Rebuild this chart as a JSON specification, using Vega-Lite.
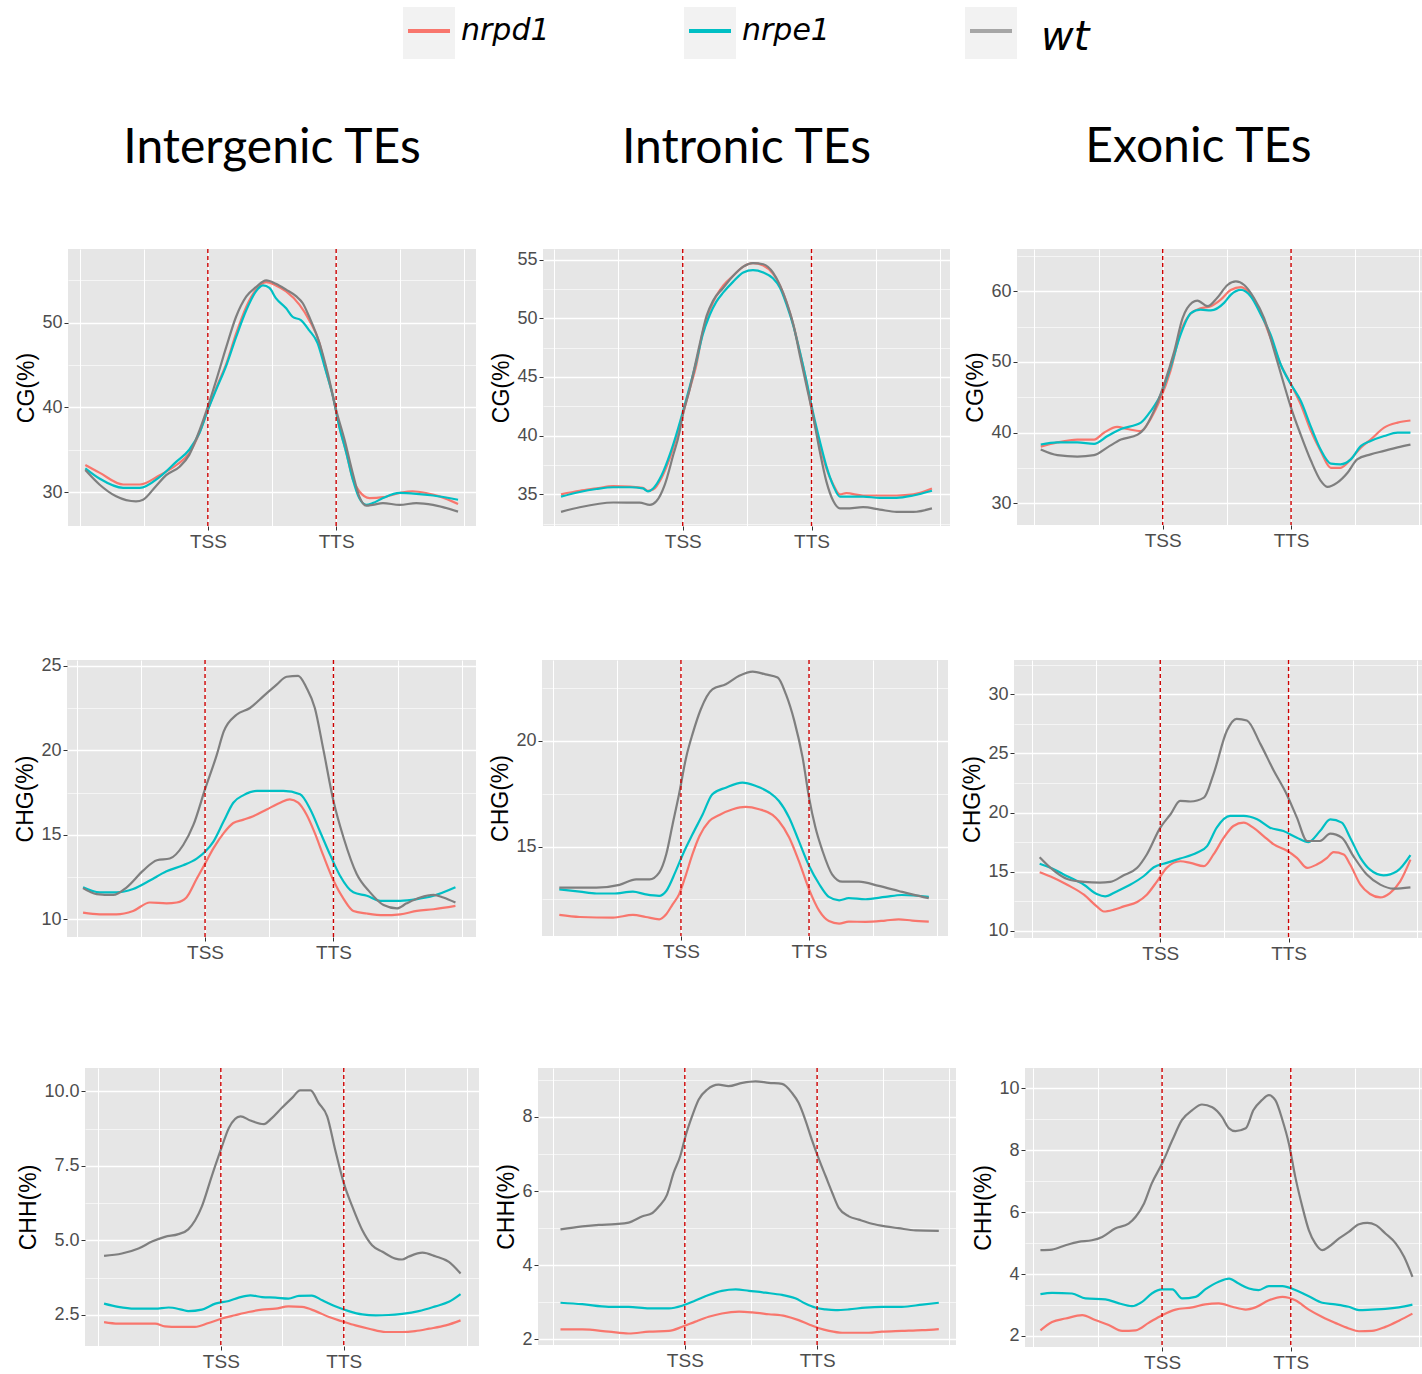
{
  "$schema": "https://vega.github.io/schema/vega-lite/v6.json",
  "background": "white",
  "padding": {"left": 0, "top": 0, "right": 0, "bottom": 0},
  "config": {
    "font": "Liberation Sans",
    "view": {"stroke": null},
    "axis": {
      "domain": false,
      "labelFont": "Liberation Sans",
      "labelColor": "#4D4D4D",
      "tickColor": "#333333",
      "tickWidth": 1,
      "tickSize": 4,
      "labelPadding": 2,
      "gridColor": "#FFFFFF",
      "titleFont": "Liberation Sans",
      "titleFontWeight": "normal",
      "titleColor": "#000000",
      "labelOverlap": false
    },
    "axisX": {"labelFontSize": 19, "labelFlush": false},
    "axisY": {"labelFontSize": 18, "titleFontSize": 23, "titlePadding": 3},
    "line": {"strokeWidth": 2.2, "interpolate": "monotone"},
    "title": {"font": "Lato", "fontSize": 48, "fontWeight": "normal", "color": "#000000", "anchor": "middle", "frame": "group", "baseline": "alphabetic", "offset": 75}
  },
  "resolve": {"scale": {"color": "independent"}},
  "spacing": 58,
  "datasets": {
    "genotypes": [{"genotype": "nrpd1"}, {"genotype": "nrpe1"}, {"genotype": "wt"}],
    "sites": [{"pos": 2, "site": "TSS"}, {"pos": 4, "site": "TTS"}],
    "cg_intergenic": [
      {"genotype": "nrpd1", "pos": 0.09, "pct": 33.2}, {"genotype": "nrpd1", "pos": 0.31, "pct": 32.3}, {"genotype": "nrpd1", "pos": 0.68, "pct": 30.9}, {"genotype": "nrpd1", "pos": 0.94, "pct": 30.9}, {"genotype": "nrpd1", "pos": 1.25, "pct": 32.0}, {"genotype": "nrpd1", "pos": 1.51, "pct": 33.2}, {"genotype": "nrpd1", "pos": 1.71, "pct": 34.6}, {"genotype": "nrpd1", "pos": 1.87, "pct": 37.0}, {"genotype": "nrpd1", "pos": 2.0, "pct": 39.7}, {"genotype": "nrpd1", "pos": 2.13, "pct": 42.3}, {"genotype": "nrpd1", "pos": 2.29, "pct": 45.2}, {"genotype": "nrpd1", "pos": 2.44, "pct": 48.7}, {"genotype": "nrpd1", "pos": 2.6, "pct": 51.9}, {"genotype": "nrpd1", "pos": 2.75, "pct": 53.9}, {"genotype": "nrpd1", "pos": 2.91, "pct": 54.8}, {"genotype": "nrpd1", "pos": 3.06, "pct": 54.4}, {"genotype": "nrpd1", "pos": 3.22, "pct": 53.7}, {"genotype": "nrpd1", "pos": 3.43, "pct": 52.1}, {"genotype": "nrpd1", "pos": 3.58, "pct": 50.3}, {"genotype": "nrpd1", "pos": 3.74, "pct": 47.6}, {"genotype": "nrpd1", "pos": 3.84, "pct": 44.4}, {"genotype": "nrpd1", "pos": 3.95, "pct": 41.3}, {"genotype": "nrpd1", "pos": 4.05, "pct": 37.7}, {"genotype": "nrpd1", "pos": 4.16, "pct": 34.6}, {"genotype": "nrpd1", "pos": 4.26, "pct": 31.5}, {"genotype": "nrpd1", "pos": 4.36, "pct": 30.1}, {"genotype": "nrpd1", "pos": 4.52, "pct": 29.3}, {"genotype": "nrpd1", "pos": 4.73, "pct": 29.4}, {"genotype": "nrpd1", "pos": 4.99, "pct": 29.9}, {"genotype": "nrpd1", "pos": 5.19, "pct": 30.1}, {"genotype": "nrpd1", "pos": 5.4, "pct": 29.9}, {"genotype": "nrpd1", "pos": 5.61, "pct": 29.5}, {"genotype": "nrpd1", "pos": 5.9, "pct": 28.6},
      {"genotype": "nrpe1", "pos": 0.09, "pct": 32.8}, {"genotype": "nrpe1", "pos": 0.31, "pct": 31.6}, {"genotype": "nrpe1", "pos": 0.68, "pct": 30.5}, {"genotype": "nrpe1", "pos": 0.94, "pct": 30.5}, {"genotype": "nrpe1", "pos": 1.25, "pct": 31.8}, {"genotype": "nrpe1", "pos": 1.51, "pct": 33.6}, {"genotype": "nrpe1", "pos": 1.71, "pct": 35.0}, {"genotype": "nrpe1", "pos": 1.87, "pct": 37.0}, {"genotype": "nrpe1", "pos": 2.0, "pct": 39.7}, {"genotype": "nrpe1", "pos": 2.13, "pct": 42.1}, {"genotype": "nrpe1", "pos": 2.29, "pct": 45.0}, {"genotype": "nrpe1", "pos": 2.44, "pct": 48.3}, {"genotype": "nrpe1", "pos": 2.6, "pct": 51.5}, {"genotype": "nrpe1", "pos": 2.75, "pct": 53.7}, {"genotype": "nrpe1", "pos": 2.86, "pct": 54.4}, {"genotype": "nrpe1", "pos": 2.96, "pct": 54.1}, {"genotype": "nrpe1", "pos": 3.06, "pct": 52.9}, {"genotype": "nrpe1", "pos": 3.22, "pct": 51.7}, {"genotype": "nrpe1", "pos": 3.32, "pct": 50.7}, {"genotype": "nrpe1", "pos": 3.45, "pct": 50.3}, {"genotype": "nrpe1", "pos": 3.58, "pct": 49.1}, {"genotype": "nrpe1", "pos": 3.71, "pct": 47.6}, {"genotype": "nrpe1", "pos": 3.82, "pct": 44.8}, {"genotype": "nrpe1", "pos": 3.95, "pct": 41.3}, {"genotype": "nrpe1", "pos": 4.05, "pct": 37.7}, {"genotype": "nrpe1", "pos": 4.16, "pct": 34.6}, {"genotype": "nrpe1", "pos": 4.26, "pct": 31.5}, {"genotype": "nrpe1", "pos": 4.36, "pct": 29.3}, {"genotype": "nrpe1", "pos": 4.47, "pct": 28.5}, {"genotype": "nrpe1", "pos": 4.57, "pct": 28.7}, {"genotype": "nrpe1", "pos": 4.73, "pct": 29.3}, {"genotype": "nrpe1", "pos": 4.99, "pct": 29.9}, {"genotype": "nrpe1", "pos": 5.25, "pct": 29.8}, {"genotype": "nrpe1", "pos": 5.51, "pct": 29.6}, {"genotype": "nrpe1", "pos": 5.9, "pct": 29.1},
      {"genotype": "wt", "pos": 0.09, "pct": 32.6}, {"genotype": "wt", "pos": 0.31, "pct": 30.9}, {"genotype": "wt", "pos": 0.57, "pct": 29.5}, {"genotype": "wt", "pos": 0.88, "pct": 28.9}, {"genotype": "wt", "pos": 0.99, "pct": 29.1}, {"genotype": "wt", "pos": 1.19, "pct": 30.7}, {"genotype": "wt", "pos": 1.35, "pct": 32.0}, {"genotype": "wt", "pos": 1.56, "pct": 33.0}, {"genotype": "wt", "pos": 1.71, "pct": 34.4}, {"genotype": "wt", "pos": 1.87, "pct": 37.3}, {"genotype": "wt", "pos": 2.0, "pct": 40.1}, {"genotype": "wt", "pos": 2.13, "pct": 43.2}, {"genotype": "wt", "pos": 2.29, "pct": 47.2}, {"genotype": "wt", "pos": 2.44, "pct": 50.7}, {"genotype": "wt", "pos": 2.6, "pct": 53.1}, {"genotype": "wt", "pos": 2.75, "pct": 54.2}, {"genotype": "wt", "pos": 2.91, "pct": 55.0}, {"genotype": "wt", "pos": 3.06, "pct": 54.6}, {"genotype": "wt", "pos": 3.22, "pct": 53.9}, {"genotype": "wt", "pos": 3.38, "pct": 53.1}, {"genotype": "wt", "pos": 3.48, "pct": 52.3}, {"genotype": "wt", "pos": 3.58, "pct": 50.7}, {"genotype": "wt", "pos": 3.74, "pct": 47.6}, {"genotype": "wt", "pos": 3.87, "pct": 44.0}, {"genotype": "wt", "pos": 4.0, "pct": 39.7}, {"genotype": "wt", "pos": 4.13, "pct": 36.2}, {"genotype": "wt", "pos": 4.26, "pct": 32.2}, {"genotype": "wt", "pos": 4.36, "pct": 29.5}, {"genotype": "wt", "pos": 4.47, "pct": 28.4}, {"genotype": "wt", "pos": 4.57, "pct": 28.5}, {"genotype": "wt", "pos": 4.73, "pct": 28.7}, {"genotype": "wt", "pos": 4.99, "pct": 28.5}, {"genotype": "wt", "pos": 5.25, "pct": 28.7}, {"genotype": "wt", "pos": 5.51, "pct": 28.5}, {"genotype": "wt", "pos": 5.9, "pct": 27.7}
    ],
    "cg_intronic": [
      {"genotype": "nrpd1", "pos": 0.11, "pct": 35.0}, {"genotype": "nrpd1", "pos": 0.4, "pct": 35.3}, {"genotype": "nrpd1", "pos": 0.66, "pct": 35.5}, {"genotype": "nrpd1", "pos": 0.92, "pct": 35.7}, {"genotype": "nrpd1", "pos": 1.18, "pct": 35.65}, {"genotype": "nrpd1", "pos": 1.38, "pct": 35.55}, {"genotype": "nrpd1", "pos": 1.46, "pct": 35.3}, {"genotype": "nrpd1", "pos": 1.54, "pct": 35.4}, {"genotype": "nrpd1", "pos": 1.67, "pct": 36.4}, {"genotype": "nrpd1", "pos": 1.8, "pct": 38.1}, {"genotype": "nrpd1", "pos": 1.9, "pct": 39.8}, {"genotype": "nrpd1", "pos": 1.99, "pct": 41.6}, {"genotype": "nrpd1", "pos": 2.11, "pct": 44.0}, {"genotype": "nrpd1", "pos": 2.21, "pct": 46.0}, {"genotype": "nrpd1", "pos": 2.31, "pct": 48.8}, {"genotype": "nrpd1", "pos": 2.42, "pct": 50.7}, {"genotype": "nrpd1", "pos": 2.52, "pct": 51.9}, {"genotype": "nrpd1", "pos": 2.63, "pct": 52.8}, {"genotype": "nrpd1", "pos": 2.78, "pct": 53.6}, {"genotype": "nrpd1", "pos": 2.94, "pct": 54.4}, {"genotype": "nrpd1", "pos": 3.09, "pct": 54.7}, {"genotype": "nrpd1", "pos": 3.25, "pct": 54.5}, {"genotype": "nrpd1", "pos": 3.4, "pct": 53.8}, {"genotype": "nrpd1", "pos": 3.51, "pct": 52.8}, {"genotype": "nrpd1", "pos": 3.61, "pct": 51.4}, {"genotype": "nrpd1", "pos": 3.72, "pct": 49.4}, {"genotype": "nrpd1", "pos": 3.82, "pct": 47.1}, {"genotype": "nrpd1", "pos": 3.92, "pct": 44.6}, {"genotype": "nrpd1", "pos": 4.03, "pct": 41.5}, {"genotype": "nrpd1", "pos": 4.13, "pct": 39.2}, {"genotype": "nrpd1", "pos": 4.23, "pct": 37.2}, {"genotype": "nrpd1", "pos": 4.34, "pct": 35.8}, {"genotype": "nrpd1", "pos": 4.44, "pct": 35.0}, {"genotype": "nrpd1", "pos": 4.54, "pct": 35.1}, {"genotype": "nrpd1", "pos": 4.8, "pct": 34.9}, {"genotype": "nrpd1", "pos": 5.06, "pct": 34.9}, {"genotype": "nrpd1", "pos": 5.32, "pct": 34.9}, {"genotype": "nrpd1", "pos": 5.58, "pct": 35.0}, {"genotype": "nrpd1", "pos": 5.87, "pct": 35.5},
      {"genotype": "nrpe1", "pos": 0.11, "pct": 34.8}, {"genotype": "nrpe1", "pos": 0.4, "pct": 35.2}, {"genotype": "nrpe1", "pos": 0.66, "pct": 35.45}, {"genotype": "nrpe1", "pos": 0.92, "pct": 35.6}, {"genotype": "nrpe1", "pos": 1.18, "pct": 35.6}, {"genotype": "nrpe1", "pos": 1.38, "pct": 35.5}, {"genotype": "nrpe1", "pos": 1.46, "pct": 35.25}, {"genotype": "nrpe1", "pos": 1.54, "pct": 35.5}, {"genotype": "nrpe1", "pos": 1.67, "pct": 36.6}, {"genotype": "nrpe1", "pos": 1.8, "pct": 38.4}, {"genotype": "nrpe1", "pos": 1.9, "pct": 40.1}, {"genotype": "nrpe1", "pos": 1.99, "pct": 41.8}, {"genotype": "nrpe1", "pos": 2.11, "pct": 44.2}, {"genotype": "nrpe1", "pos": 2.21, "pct": 46.3}, {"genotype": "nrpe1", "pos": 2.31, "pct": 48.6}, {"genotype": "nrpe1", "pos": 2.42, "pct": 50.3}, {"genotype": "nrpe1", "pos": 2.52, "pct": 51.4}, {"genotype": "nrpe1", "pos": 2.63, "pct": 52.2}, {"genotype": "nrpe1", "pos": 2.78, "pct": 53.1}, {"genotype": "nrpe1", "pos": 2.94, "pct": 53.9}, {"genotype": "nrpe1", "pos": 3.09, "pct": 54.1}, {"genotype": "nrpe1", "pos": 3.25, "pct": 53.9}, {"genotype": "nrpe1", "pos": 3.4, "pct": 53.4}, {"genotype": "nrpe1", "pos": 3.51, "pct": 52.6}, {"genotype": "nrpe1", "pos": 3.61, "pct": 51.2}, {"genotype": "nrpe1", "pos": 3.72, "pct": 49.3}, {"genotype": "nrpe1", "pos": 3.82, "pct": 47.1}, {"genotype": "nrpe1", "pos": 3.92, "pct": 44.7}, {"genotype": "nrpe1", "pos": 4.03, "pct": 41.8}, {"genotype": "nrpe1", "pos": 4.13, "pct": 39.5}, {"genotype": "nrpe1", "pos": 4.23, "pct": 37.4}, {"genotype": "nrpe1", "pos": 4.34, "pct": 35.7}, {"genotype": "nrpe1", "pos": 4.44, "pct": 34.8}, {"genotype": "nrpe1", "pos": 4.54, "pct": 34.8}, {"genotype": "nrpe1", "pos": 4.8, "pct": 34.8}, {"genotype": "nrpe1", "pos": 5.06, "pct": 34.7}, {"genotype": "nrpe1", "pos": 5.32, "pct": 34.7}, {"genotype": "nrpe1", "pos": 5.58, "pct": 34.9}, {"genotype": "nrpe1", "pos": 5.87, "pct": 35.3},
      {"genotype": "wt", "pos": 0.11, "pct": 33.5}, {"genotype": "wt", "pos": 0.4, "pct": 33.9}, {"genotype": "wt", "pos": 0.92, "pct": 34.3}, {"genotype": "wt", "pos": 1.33, "pct": 34.3}, {"genotype": "wt", "pos": 1.49, "pct": 34.1}, {"genotype": "wt", "pos": 1.59, "pct": 34.4}, {"genotype": "wt", "pos": 1.72, "pct": 35.8}, {"genotype": "wt", "pos": 1.85, "pct": 38.3}, {"genotype": "wt", "pos": 1.95, "pct": 40.3}, {"genotype": "wt", "pos": 1.99, "pct": 41.5}, {"genotype": "wt", "pos": 2.11, "pct": 44.0}, {"genotype": "wt", "pos": 2.26, "pct": 47.7}, {"genotype": "wt", "pos": 2.37, "pct": 50.2}, {"genotype": "wt", "pos": 2.47, "pct": 51.5}, {"genotype": "wt", "pos": 2.63, "pct": 52.6}, {"genotype": "wt", "pos": 2.78, "pct": 53.6}, {"genotype": "wt", "pos": 2.94, "pct": 54.4}, {"genotype": "wt", "pos": 3.09, "pct": 54.7}, {"genotype": "wt", "pos": 3.25, "pct": 54.6}, {"genotype": "wt", "pos": 3.4, "pct": 53.9}, {"genotype": "wt", "pos": 3.51, "pct": 52.8}, {"genotype": "wt", "pos": 3.61, "pct": 51.4}, {"genotype": "wt", "pos": 3.72, "pct": 49.4}, {"genotype": "wt", "pos": 3.82, "pct": 46.8}, {"genotype": "wt", "pos": 3.92, "pct": 44.3}, {"genotype": "wt", "pos": 4.03, "pct": 41.5}, {"genotype": "wt", "pos": 4.13, "pct": 38.6}, {"genotype": "wt", "pos": 4.23, "pct": 36.1}, {"genotype": "wt", "pos": 4.34, "pct": 34.4}, {"genotype": "wt", "pos": 4.44, "pct": 33.8}, {"genotype": "wt", "pos": 4.54, "pct": 33.8}, {"genotype": "wt", "pos": 4.8, "pct": 33.9}, {"genotype": "wt", "pos": 5.06, "pct": 33.7}, {"genotype": "wt", "pos": 5.32, "pct": 33.5}, {"genotype": "wt", "pos": 5.58, "pct": 33.5}, {"genotype": "wt", "pos": 5.87, "pct": 33.8}
    ],
    "cg_exonic": [
      {"genotype": "nrpd1", "pos": 0.1, "pct": 38.0}, {"genotype": "nrpd1", "pos": 0.36, "pct": 38.6}, {"genotype": "nrpd1", "pos": 0.67, "pct": 39.0}, {"genotype": "nrpd1", "pos": 0.93, "pct": 39.0}, {"genotype": "nrpd1", "pos": 1.09, "pct": 40.0}, {"genotype": "nrpd1", "pos": 1.29, "pct": 40.8}, {"genotype": "nrpd1", "pos": 1.45, "pct": 40.5}, {"genotype": "nrpd1", "pos": 1.66, "pct": 40.2}, {"genotype": "nrpd1", "pos": 1.81, "pct": 41.9}, {"genotype": "nrpd1", "pos": 1.97, "pct": 44.9}, {"genotype": "nrpd1", "pos": 2.12, "pct": 48.7}, {"genotype": "nrpd1", "pos": 2.28, "pct": 54.3}, {"genotype": "nrpd1", "pos": 2.44, "pct": 56.9}, {"genotype": "nrpd1", "pos": 2.59, "pct": 57.6}, {"genotype": "nrpd1", "pos": 2.75, "pct": 57.9}, {"genotype": "nrpd1", "pos": 2.9, "pct": 58.8}, {"genotype": "nrpd1", "pos": 3.06, "pct": 60.2}, {"genotype": "nrpd1", "pos": 3.22, "pct": 60.6}, {"genotype": "nrpd1", "pos": 3.37, "pct": 59.5}, {"genotype": "nrpd1", "pos": 3.53, "pct": 56.9}, {"genotype": "nrpd1", "pos": 3.68, "pct": 53.4}, {"genotype": "nrpd1", "pos": 3.84, "pct": 49.6}, {"genotype": "nrpd1", "pos": 4.0, "pct": 46.8}, {"genotype": "nrpd1", "pos": 4.15, "pct": 44.0}, {"genotype": "nrpd1", "pos": 4.31, "pct": 40.2}, {"genotype": "nrpd1", "pos": 4.46, "pct": 37.4}, {"genotype": "nrpd1", "pos": 4.62, "pct": 35.0}, {"genotype": "nrpd1", "pos": 4.77, "pct": 35.0}, {"genotype": "nrpd1", "pos": 4.93, "pct": 36.2}, {"genotype": "nrpd1", "pos": 5.09, "pct": 37.9}, {"genotype": "nrpd1", "pos": 5.24, "pct": 39.0}, {"genotype": "nrpd1", "pos": 5.45, "pct": 40.7}, {"genotype": "nrpd1", "pos": 5.66, "pct": 41.4}, {"genotype": "nrpd1", "pos": 5.86, "pct": 41.7},
      {"genotype": "nrpe1", "pos": 0.1, "pct": 38.3}, {"genotype": "nrpe1", "pos": 0.36, "pct": 38.6}, {"genotype": "nrpe1", "pos": 0.67, "pct": 38.6}, {"genotype": "nrpe1", "pos": 0.93, "pct": 38.4}, {"genotype": "nrpe1", "pos": 1.14, "pct": 39.5}, {"genotype": "nrpe1", "pos": 1.35, "pct": 40.5}, {"genotype": "nrpe1", "pos": 1.66, "pct": 41.4}, {"genotype": "nrpe1", "pos": 1.81, "pct": 43.0}, {"genotype": "nrpe1", "pos": 1.97, "pct": 45.4}, {"genotype": "nrpe1", "pos": 2.12, "pct": 49.2}, {"genotype": "nrpe1", "pos": 2.28, "pct": 53.9}, {"genotype": "nrpe1", "pos": 2.44, "pct": 56.9}, {"genotype": "nrpe1", "pos": 2.59, "pct": 57.4}, {"genotype": "nrpe1", "pos": 2.75, "pct": 57.3}, {"genotype": "nrpe1", "pos": 2.96, "pct": 58.4}, {"genotype": "nrpe1", "pos": 3.06, "pct": 59.5}, {"genotype": "nrpe1", "pos": 3.22, "pct": 60.2}, {"genotype": "nrpe1", "pos": 3.37, "pct": 59.3}, {"genotype": "nrpe1", "pos": 3.53, "pct": 56.7}, {"genotype": "nrpe1", "pos": 3.68, "pct": 53.9}, {"genotype": "nrpe1", "pos": 3.84, "pct": 49.6}, {"genotype": "nrpe1", "pos": 4.0, "pct": 46.8}, {"genotype": "nrpe1", "pos": 4.15, "pct": 44.5}, {"genotype": "nrpe1", "pos": 4.31, "pct": 40.8}, {"genotype": "nrpe1", "pos": 4.46, "pct": 37.6}, {"genotype": "nrpe1", "pos": 4.62, "pct": 35.6}, {"genotype": "nrpe1", "pos": 4.77, "pct": 35.5}, {"genotype": "nrpe1", "pos": 4.93, "pct": 36.2}, {"genotype": "nrpe1", "pos": 5.09, "pct": 38.1}, {"genotype": "nrpe1", "pos": 5.24, "pct": 38.8}, {"genotype": "nrpe1", "pos": 5.45, "pct": 39.5}, {"genotype": "nrpe1", "pos": 5.66, "pct": 40.0}, {"genotype": "nrpe1", "pos": 5.86, "pct": 40.0},
      {"genotype": "wt", "pos": 0.1, "pct": 37.6}, {"genotype": "wt", "pos": 0.36, "pct": 36.8}, {"genotype": "wt", "pos": 0.67, "pct": 36.6}, {"genotype": "wt", "pos": 0.93, "pct": 36.8}, {"genotype": "wt", "pos": 1.14, "pct": 37.9}, {"genotype": "wt", "pos": 1.35, "pct": 39.0}, {"genotype": "wt", "pos": 1.61, "pct": 39.7}, {"genotype": "wt", "pos": 1.71, "pct": 40.5}, {"genotype": "wt", "pos": 1.86, "pct": 43.0}, {"genotype": "wt", "pos": 2.02, "pct": 46.8}, {"genotype": "wt", "pos": 2.18, "pct": 51.5}, {"genotype": "wt", "pos": 2.31, "pct": 56.2}, {"genotype": "wt", "pos": 2.38, "pct": 57.6}, {"genotype": "wt", "pos": 2.54, "pct": 58.7}, {"genotype": "wt", "pos": 2.7, "pct": 57.9}, {"genotype": "wt", "pos": 2.85, "pct": 59.1}, {"genotype": "wt", "pos": 3.01, "pct": 60.9}, {"genotype": "wt", "pos": 3.14, "pct": 61.4}, {"genotype": "wt", "pos": 3.27, "pct": 60.9}, {"genotype": "wt", "pos": 3.42, "pct": 59.1}, {"genotype": "wt", "pos": 3.58, "pct": 56.2}, {"genotype": "wt", "pos": 3.74, "pct": 51.5}, {"genotype": "wt", "pos": 3.89, "pct": 46.8}, {"genotype": "wt", "pos": 4.0, "pct": 43.5}, {"genotype": "wt", "pos": 4.15, "pct": 39.7}, {"genotype": "wt", "pos": 4.31, "pct": 36.0}, {"genotype": "wt", "pos": 4.46, "pct": 33.2}, {"genotype": "wt", "pos": 4.57, "pct": 32.3}, {"genotype": "wt", "pos": 4.72, "pct": 32.9}, {"genotype": "wt", "pos": 4.88, "pct": 34.3}, {"genotype": "wt", "pos": 5.03, "pct": 36.2}, {"genotype": "wt", "pos": 5.24, "pct": 36.9}, {"genotype": "wt", "pos": 5.45, "pct": 37.4}, {"genotype": "wt", "pos": 5.66, "pct": 37.9}, {"genotype": "wt", "pos": 5.86, "pct": 38.3}
    ],
    "chg_intergenic": [
      {"genotype": "nrpd1", "pos": 0.1, "pct": 10.4}, {"genotype": "nrpd1", "pos": 0.36, "pct": 10.3}, {"genotype": "nrpd1", "pos": 0.62, "pct": 10.3}, {"genotype": "nrpd1", "pos": 0.88, "pct": 10.5}, {"genotype": "nrpd1", "pos": 1.14, "pct": 11.0}, {"genotype": "nrpd1", "pos": 1.4, "pct": 10.95}, {"genotype": "nrpd1", "pos": 1.56, "pct": 11.0}, {"genotype": "nrpd1", "pos": 1.71, "pct": 11.3}, {"genotype": "nrpd1", "pos": 1.87, "pct": 12.4}, {"genotype": "nrpd1", "pos": 2.0, "pct": 13.3}, {"genotype": "nrpd1", "pos": 2.13, "pct": 14.2}, {"genotype": "nrpd1", "pos": 2.29, "pct": 15.1}, {"genotype": "nrpd1", "pos": 2.44, "pct": 15.7}, {"genotype": "nrpd1", "pos": 2.6, "pct": 15.9}, {"genotype": "nrpd1", "pos": 2.75, "pct": 16.1}, {"genotype": "nrpd1", "pos": 2.96, "pct": 16.5}, {"genotype": "nrpd1", "pos": 3.17, "pct": 16.9}, {"genotype": "nrpd1", "pos": 3.32, "pct": 17.1}, {"genotype": "nrpd1", "pos": 3.45, "pct": 16.9}, {"genotype": "nrpd1", "pos": 3.58, "pct": 16.2}, {"genotype": "nrpd1", "pos": 3.71, "pct": 15.1}, {"genotype": "nrpd1", "pos": 3.84, "pct": 13.8}, {"genotype": "nrpd1", "pos": 4.0, "pct": 12.3}, {"genotype": "nrpd1", "pos": 4.16, "pct": 11.2}, {"genotype": "nrpd1", "pos": 4.31, "pct": 10.5}, {"genotype": "nrpd1", "pos": 4.52, "pct": 10.35}, {"genotype": "nrpd1", "pos": 4.78, "pct": 10.25}, {"genotype": "nrpd1", "pos": 5.04, "pct": 10.3}, {"genotype": "nrpd1", "pos": 5.3, "pct": 10.5}, {"genotype": "nrpd1", "pos": 5.56, "pct": 10.6}, {"genotype": "nrpd1", "pos": 5.9, "pct": 10.8},
      {"genotype": "nrpe1", "pos": 0.1, "pct": 11.9}, {"genotype": "nrpe1", "pos": 0.36, "pct": 11.6}, {"genotype": "nrpe1", "pos": 0.62, "pct": 11.6}, {"genotype": "nrpe1", "pos": 0.88, "pct": 11.8}, {"genotype": "nrpe1", "pos": 1.14, "pct": 12.3}, {"genotype": "nrpe1", "pos": 1.4, "pct": 12.85}, {"genotype": "nrpe1", "pos": 1.66, "pct": 13.2}, {"genotype": "nrpe1", "pos": 1.87, "pct": 13.6}, {"genotype": "nrpe1", "pos": 2.0, "pct": 14.0}, {"genotype": "nrpe1", "pos": 2.13, "pct": 14.6}, {"genotype": "nrpe1", "pos": 2.29, "pct": 15.8}, {"genotype": "nrpe1", "pos": 2.44, "pct": 16.9}, {"genotype": "nrpe1", "pos": 2.6, "pct": 17.35}, {"genotype": "nrpe1", "pos": 2.81, "pct": 17.6}, {"genotype": "nrpe1", "pos": 3.01, "pct": 17.6}, {"genotype": "nrpe1", "pos": 3.22, "pct": 17.6}, {"genotype": "nrpe1", "pos": 3.48, "pct": 17.4}, {"genotype": "nrpe1", "pos": 3.64, "pct": 16.5}, {"genotype": "nrpe1", "pos": 3.79, "pct": 15.2}, {"genotype": "nrpe1", "pos": 3.95, "pct": 13.8}, {"genotype": "nrpe1", "pos": 4.1, "pct": 12.6}, {"genotype": "nrpe1", "pos": 4.31, "pct": 11.6}, {"genotype": "nrpe1", "pos": 4.52, "pct": 11.4}, {"genotype": "nrpe1", "pos": 4.73, "pct": 11.1}, {"genotype": "nrpe1", "pos": 5.04, "pct": 11.1}, {"genotype": "nrpe1", "pos": 5.3, "pct": 11.2}, {"genotype": "nrpe1", "pos": 5.56, "pct": 11.4}, {"genotype": "nrpe1", "pos": 5.9, "pct": 11.9},
      {"genotype": "wt", "pos": 0.1, "pct": 11.85}, {"genotype": "wt", "pos": 0.31, "pct": 11.5}, {"genotype": "wt", "pos": 0.57, "pct": 11.45}, {"genotype": "wt", "pos": 0.78, "pct": 11.9}, {"genotype": "wt", "pos": 1.04, "pct": 12.9}, {"genotype": "wt", "pos": 1.25, "pct": 13.5}, {"genotype": "wt", "pos": 1.45, "pct": 13.6}, {"genotype": "wt", "pos": 1.66, "pct": 14.4}, {"genotype": "wt", "pos": 1.82, "pct": 15.6}, {"genotype": "wt", "pos": 2.0, "pct": 17.7}, {"genotype": "wt", "pos": 2.18, "pct": 19.7}, {"genotype": "wt", "pos": 2.29, "pct": 21.1}, {"genotype": "wt", "pos": 2.49, "pct": 22.1}, {"genotype": "wt", "pos": 2.7, "pct": 22.5}, {"genotype": "wt", "pos": 2.91, "pct": 23.2}, {"genotype": "wt", "pos": 3.12, "pct": 23.9}, {"genotype": "wt", "pos": 3.27, "pct": 24.35}, {"genotype": "wt", "pos": 3.45, "pct": 24.4}, {"genotype": "wt", "pos": 3.58, "pct": 23.7}, {"genotype": "wt", "pos": 3.71, "pct": 22.5}, {"genotype": "wt", "pos": 3.84, "pct": 20.1}, {"genotype": "wt", "pos": 4.0, "pct": 17.0}, {"genotype": "wt", "pos": 4.16, "pct": 14.8}, {"genotype": "wt", "pos": 4.36, "pct": 12.7}, {"genotype": "wt", "pos": 4.57, "pct": 11.6}, {"genotype": "wt", "pos": 4.78, "pct": 10.85}, {"genotype": "wt", "pos": 4.99, "pct": 10.65}, {"genotype": "wt", "pos": 5.14, "pct": 10.95}, {"genotype": "wt", "pos": 5.35, "pct": 11.3}, {"genotype": "wt", "pos": 5.56, "pct": 11.45}, {"genotype": "wt", "pos": 5.71, "pct": 11.3}, {"genotype": "wt", "pos": 5.9, "pct": 11.0}
    ],
    "chg_intronic": [
      {"genotype": "nrpd1", "pos": 0.1, "pct": 11.77}, {"genotype": "nrpd1", "pos": 0.42, "pct": 11.67}, {"genotype": "nrpd1", "pos": 0.94, "pct": 11.64}, {"genotype": "nrpd1", "pos": 1.25, "pct": 11.77}, {"genotype": "nrpd1", "pos": 1.45, "pct": 11.67}, {"genotype": "nrpd1", "pos": 1.66, "pct": 11.56}, {"genotype": "nrpd1", "pos": 1.77, "pct": 11.8}, {"genotype": "nrpd1", "pos": 1.87, "pct": 12.27}, {"genotype": "nrpd1", "pos": 1.97, "pct": 12.74}, {"genotype": "nrpd1", "pos": 2.08, "pct": 13.69}, {"genotype": "nrpd1", "pos": 2.18, "pct": 14.64}, {"genotype": "nrpd1", "pos": 2.29, "pct": 15.5}, {"genotype": "nrpd1", "pos": 2.44, "pct": 16.2}, {"genotype": "nrpd1", "pos": 2.6, "pct": 16.5}, {"genotype": "nrpd1", "pos": 2.81, "pct": 16.77}, {"genotype": "nrpd1", "pos": 3.01, "pct": 16.88}, {"genotype": "nrpd1", "pos": 3.22, "pct": 16.77}, {"genotype": "nrpd1", "pos": 3.43, "pct": 16.5}, {"genotype": "nrpd1", "pos": 3.53, "pct": 16.2}, {"genotype": "nrpd1", "pos": 3.69, "pct": 15.43}, {"genotype": "nrpd1", "pos": 3.84, "pct": 14.32}, {"genotype": "nrpd1", "pos": 4.0, "pct": 12.98}, {"genotype": "nrpd1", "pos": 4.16, "pct": 11.96}, {"genotype": "nrpd1", "pos": 4.31, "pct": 11.48}, {"genotype": "nrpd1", "pos": 4.47, "pct": 11.36}, {"genotype": "nrpd1", "pos": 4.62, "pct": 11.45}, {"genotype": "nrpd1", "pos": 4.88, "pct": 11.44}, {"genotype": "nrpd1", "pos": 5.19, "pct": 11.5}, {"genotype": "nrpd1", "pos": 5.4, "pct": 11.56}, {"genotype": "nrpd1", "pos": 5.61, "pct": 11.5}, {"genotype": "nrpd1", "pos": 5.87, "pct": 11.45},
      {"genotype": "nrpe1", "pos": 0.1, "pct": 12.98}, {"genotype": "nrpe1", "pos": 0.42, "pct": 12.87}, {"genotype": "nrpe1", "pos": 0.68, "pct": 12.78}, {"genotype": "nrpe1", "pos": 0.94, "pct": 12.78}, {"genotype": "nrpe1", "pos": 1.25, "pct": 12.87}, {"genotype": "nrpe1", "pos": 1.45, "pct": 12.74}, {"genotype": "nrpe1", "pos": 1.66, "pct": 12.67}, {"genotype": "nrpe1", "pos": 1.77, "pct": 12.9}, {"genotype": "nrpe1", "pos": 1.92, "pct": 13.85}, {"genotype": "nrpe1", "pos": 2.03, "pct": 14.64}, {"genotype": "nrpe1", "pos": 2.18, "pct": 15.58}, {"genotype": "nrpe1", "pos": 2.34, "pct": 16.53}, {"genotype": "nrpe1", "pos": 2.49, "pct": 17.48}, {"genotype": "nrpe1", "pos": 2.7, "pct": 17.79}, {"genotype": "nrpe1", "pos": 2.96, "pct": 18.03}, {"genotype": "nrpe1", "pos": 3.17, "pct": 17.87}, {"genotype": "nrpe1", "pos": 3.38, "pct": 17.56}, {"genotype": "nrpe1", "pos": 3.53, "pct": 17.16}, {"genotype": "nrpe1", "pos": 3.69, "pct": 16.37}, {"genotype": "nrpe1", "pos": 3.84, "pct": 15.27}, {"genotype": "nrpe1", "pos": 4.0, "pct": 14.09}, {"genotype": "nrpe1", "pos": 4.16, "pct": 13.22}, {"genotype": "nrpe1", "pos": 4.31, "pct": 12.62}, {"genotype": "nrpe1", "pos": 4.47, "pct": 12.46}, {"genotype": "nrpe1", "pos": 4.62, "pct": 12.56}, {"genotype": "nrpe1", "pos": 4.88, "pct": 12.51}, {"genotype": "nrpe1", "pos": 5.19, "pct": 12.62}, {"genotype": "nrpe1", "pos": 5.45, "pct": 12.71}, {"genotype": "nrpe1", "pos": 5.87, "pct": 12.62},
      {"genotype": "wt", "pos": 0.1, "pct": 13.06}, {"genotype": "wt", "pos": 0.42, "pct": 13.06}, {"genotype": "wt", "pos": 0.68, "pct": 13.06}, {"genotype": "wt", "pos": 1.04, "pct": 13.19}, {"genotype": "wt", "pos": 1.3, "pct": 13.45}, {"genotype": "wt", "pos": 1.51, "pct": 13.45}, {"genotype": "wt", "pos": 1.66, "pct": 13.77}, {"genotype": "wt", "pos": 1.77, "pct": 14.64}, {"genotype": "wt", "pos": 1.87, "pct": 16.06}, {"genotype": "wt", "pos": 1.97, "pct": 17.48}, {"genotype": "wt", "pos": 2.08, "pct": 19.21}, {"genotype": "wt", "pos": 2.18, "pct": 20.32}, {"genotype": "wt", "pos": 2.31, "pct": 21.5}, {"genotype": "wt", "pos": 2.49, "pct": 22.44}, {"genotype": "wt", "pos": 2.7, "pct": 22.68}, {"genotype": "wt", "pos": 2.91, "pct": 23.08}, {"genotype": "wt", "pos": 3.12, "pct": 23.28}, {"genotype": "wt", "pos": 3.32, "pct": 23.15}, {"genotype": "wt", "pos": 3.51, "pct": 23.0}, {"genotype": "wt", "pos": 3.64, "pct": 22.2}, {"genotype": "wt", "pos": 3.77, "pct": 20.95}, {"genotype": "wt", "pos": 3.9, "pct": 19.21}, {"genotype": "wt", "pos": 4.0, "pct": 17.32}, {"genotype": "wt", "pos": 4.1, "pct": 15.9}, {"genotype": "wt", "pos": 4.21, "pct": 14.8}, {"genotype": "wt", "pos": 4.36, "pct": 13.69}, {"genotype": "wt", "pos": 4.52, "pct": 13.34}, {"genotype": "wt", "pos": 4.78, "pct": 13.34}, {"genotype": "wt", "pos": 5.09, "pct": 13.14}, {"genotype": "wt", "pos": 5.4, "pct": 12.9}, {"genotype": "wt", "pos": 5.61, "pct": 12.74}, {"genotype": "wt", "pos": 5.87, "pct": 12.56}
    ],
    "chg_exonic": [
      {"genotype": "nrpd1", "pos": 0.12, "pct": 14.96}, {"genotype": "nrpd1", "pos": 0.29, "pct": 14.6}, {"genotype": "nrpd1", "pos": 0.55, "pct": 13.9}, {"genotype": "nrpd1", "pos": 0.81, "pct": 13.06}, {"genotype": "nrpd1", "pos": 1.01, "pct": 12.07}, {"genotype": "nrpd1", "pos": 1.12, "pct": 11.64}, {"genotype": "nrpd1", "pos": 1.27, "pct": 11.78}, {"genotype": "nrpd1", "pos": 1.43, "pct": 12.07}, {"genotype": "nrpd1", "pos": 1.64, "pct": 12.44}, {"genotype": "nrpd1", "pos": 1.79, "pct": 13.06}, {"genotype": "nrpd1", "pos": 1.95, "pct": 14.19}, {"genotype": "nrpd1", "pos": 2.1, "pct": 15.33}, {"genotype": "nrpd1", "pos": 2.31, "pct": 15.89}, {"genotype": "nrpd1", "pos": 2.47, "pct": 15.75}, {"genotype": "nrpd1", "pos": 2.68, "pct": 15.47}, {"genotype": "nrpd1", "pos": 2.83, "pct": 16.46}, {"genotype": "nrpd1", "pos": 2.99, "pct": 17.88}, {"genotype": "nrpd1", "pos": 3.14, "pct": 18.87}, {"genotype": "nrpd1", "pos": 3.3, "pct": 19.15}, {"genotype": "nrpd1", "pos": 3.45, "pct": 18.73}, {"genotype": "nrpd1", "pos": 3.61, "pct": 18.02}, {"genotype": "nrpd1", "pos": 3.77, "pct": 17.31}, {"genotype": "nrpd1", "pos": 3.97, "pct": 16.8}, {"genotype": "nrpd1", "pos": 4.13, "pct": 16.18}, {"genotype": "nrpd1", "pos": 4.29, "pct": 15.33}, {"genotype": "nrpd1", "pos": 4.44, "pct": 15.61}, {"genotype": "nrpd1", "pos": 4.6, "pct": 16.18}, {"genotype": "nrpd1", "pos": 4.7, "pct": 16.66}, {"genotype": "nrpd1", "pos": 4.86, "pct": 16.46}, {"genotype": "nrpd1", "pos": 4.96, "pct": 15.61}, {"genotype": "nrpd1", "pos": 5.12, "pct": 13.91}, {"genotype": "nrpd1", "pos": 5.27, "pct": 13.12}, {"genotype": "nrpd1", "pos": 5.43, "pct": 12.83}, {"genotype": "nrpd1", "pos": 5.58, "pct": 13.2}, {"genotype": "nrpd1", "pos": 5.74, "pct": 14.19}, {"genotype": "nrpd1", "pos": 5.9, "pct": 16.03},
      {"genotype": "nrpe1", "pos": 0.12, "pct": 15.67}, {"genotype": "nrpe1", "pos": 0.29, "pct": 15.33}, {"genotype": "nrpe1", "pos": 0.55, "pct": 14.62}, {"genotype": "nrpe1", "pos": 0.81, "pct": 13.9}, {"genotype": "nrpe1", "pos": 1.01, "pct": 13.12}, {"genotype": "nrpe1", "pos": 1.14, "pct": 12.92}, {"genotype": "nrpe1", "pos": 1.32, "pct": 13.34}, {"genotype": "nrpe1", "pos": 1.53, "pct": 13.9}, {"genotype": "nrpe1", "pos": 1.74, "pct": 14.62}, {"genotype": "nrpe1", "pos": 1.9, "pct": 15.38}, {"genotype": "nrpe1", "pos": 2.1, "pct": 15.75}, {"genotype": "nrpe1", "pos": 2.31, "pct": 16.12}, {"genotype": "nrpe1", "pos": 2.57, "pct": 16.6}, {"genotype": "nrpe1", "pos": 2.73, "pct": 17.17}, {"genotype": "nrpe1", "pos": 2.88, "pct": 18.73}, {"genotype": "nrpe1", "pos": 3.09, "pct": 19.72}, {"genotype": "nrpe1", "pos": 3.3, "pct": 19.72}, {"genotype": "nrpe1", "pos": 3.51, "pct": 19.43}, {"genotype": "nrpe1", "pos": 3.71, "pct": 18.73}, {"genotype": "nrpe1", "pos": 3.92, "pct": 18.44}, {"genotype": "nrpe1", "pos": 4.13, "pct": 17.88}, {"genotype": "nrpe1", "pos": 4.31, "pct": 17.51}, {"genotype": "nrpe1", "pos": 4.49, "pct": 18.44}, {"genotype": "nrpe1", "pos": 4.65, "pct": 19.43}, {"genotype": "nrpe1", "pos": 4.83, "pct": 19.15}, {"genotype": "nrpe1", "pos": 4.96, "pct": 17.88}, {"genotype": "nrpe1", "pos": 5.12, "pct": 16.18}, {"genotype": "nrpe1", "pos": 5.27, "pct": 15.18}, {"genotype": "nrpe1", "pos": 5.48, "pct": 14.7}, {"genotype": "nrpe1", "pos": 5.69, "pct": 15.04}, {"genotype": "nrpe1", "pos": 5.9, "pct": 16.4},
      {"genotype": "wt", "pos": 0.12, "pct": 16.23}, {"genotype": "wt", "pos": 0.29, "pct": 15.33}, {"genotype": "wt", "pos": 0.55, "pct": 14.39}, {"genotype": "wt", "pos": 0.81, "pct": 14.14}, {"genotype": "wt", "pos": 1.06, "pct": 14.08}, {"genotype": "wt", "pos": 1.22, "pct": 14.14}, {"genotype": "wt", "pos": 1.43, "pct": 14.7}, {"genotype": "wt", "pos": 1.64, "pct": 15.33}, {"genotype": "wt", "pos": 1.79, "pct": 16.46}, {"genotype": "wt", "pos": 2.0, "pct": 18.73}, {"genotype": "wt", "pos": 2.16, "pct": 19.86}, {"genotype": "wt", "pos": 2.31, "pct": 20.99}, {"genotype": "wt", "pos": 2.47, "pct": 20.94}, {"genotype": "wt", "pos": 2.68, "pct": 21.27}, {"genotype": "wt", "pos": 2.83, "pct": 23.26}, {"genotype": "wt", "pos": 3.04, "pct": 26.94}, {"genotype": "wt", "pos": 3.19, "pct": 27.93}, {"genotype": "wt", "pos": 3.35, "pct": 27.79}, {"genotype": "wt", "pos": 3.56, "pct": 25.81}, {"genotype": "wt", "pos": 3.77, "pct": 23.54}, {"genotype": "wt", "pos": 3.97, "pct": 21.56}, {"genotype": "wt", "pos": 4.13, "pct": 19.58}, {"genotype": "wt", "pos": 4.29, "pct": 17.6}, {"genotype": "wt", "pos": 4.49, "pct": 17.6}, {"genotype": "wt", "pos": 4.65, "pct": 18.22}, {"genotype": "wt", "pos": 4.83, "pct": 17.88}, {"genotype": "wt", "pos": 5.01, "pct": 16.32}, {"genotype": "wt", "pos": 5.22, "pct": 14.76}, {"genotype": "wt", "pos": 5.43, "pct": 13.91}, {"genotype": "wt", "pos": 5.64, "pct": 13.57}, {"genotype": "wt", "pos": 5.9, "pct": 13.68}
    ],
    "chh_intergenic": [
      {"genotype": "nrpd1", "pos": 0.1, "pct": 2.26}, {"genotype": "nrpd1", "pos": 0.33, "pct": 2.21}, {"genotype": "nrpd1", "pos": 0.6, "pct": 2.21}, {"genotype": "nrpd1", "pos": 0.93, "pct": 2.21}, {"genotype": "nrpd1", "pos": 1.09, "pct": 2.12}, {"genotype": "nrpd1", "pos": 1.31, "pct": 2.1}, {"genotype": "nrpd1", "pos": 1.58, "pct": 2.1}, {"genotype": "nrpd1", "pos": 1.8, "pct": 2.23}, {"genotype": "nrpd1", "pos": 2.02, "pct": 2.38}, {"genotype": "nrpd1", "pos": 2.23, "pct": 2.49}, {"genotype": "nrpd1", "pos": 2.45, "pct": 2.6}, {"genotype": "nrpd1", "pos": 2.67, "pct": 2.68}, {"genotype": "nrpd1", "pos": 2.89, "pct": 2.71}, {"genotype": "nrpd1", "pos": 3.1, "pct": 2.79}, {"genotype": "nrpd1", "pos": 3.32, "pct": 2.77}, {"genotype": "nrpd1", "pos": 3.54, "pct": 2.63}, {"genotype": "nrpd1", "pos": 3.76, "pct": 2.43}, {"genotype": "nrpd1", "pos": 3.97, "pct": 2.29}, {"genotype": "nrpd1", "pos": 4.19, "pct": 2.15}, {"genotype": "nrpd1", "pos": 4.41, "pct": 2.04}, {"genotype": "nrpd1", "pos": 4.68, "pct": 1.93}, {"genotype": "nrpd1", "pos": 4.95, "pct": 1.93}, {"genotype": "nrpd1", "pos": 5.16, "pct": 1.96}, {"genotype": "nrpd1", "pos": 5.39, "pct": 2.04}, {"genotype": "nrpd1", "pos": 5.66, "pct": 2.15}, {"genotype": "nrpd1", "pos": 5.9, "pct": 2.32},
      {"genotype": "nrpe1", "pos": 0.1, "pct": 2.88}, {"genotype": "nrpe1", "pos": 0.33, "pct": 2.77}, {"genotype": "nrpe1", "pos": 0.6, "pct": 2.71}, {"genotype": "nrpe1", "pos": 0.93, "pct": 2.71}, {"genotype": "nrpe1", "pos": 1.15, "pct": 2.75}, {"genotype": "nrpe1", "pos": 1.36, "pct": 2.68}, {"genotype": "nrpe1", "pos": 1.47, "pct": 2.63}, {"genotype": "nrpe1", "pos": 1.69, "pct": 2.68}, {"genotype": "nrpe1", "pos": 1.91, "pct": 2.88}, {"genotype": "nrpe1", "pos": 2.13, "pct": 2.97}, {"genotype": "nrpe1", "pos": 2.29, "pct": 3.08}, {"genotype": "nrpe1", "pos": 2.48, "pct": 3.16}, {"genotype": "nrpe1", "pos": 2.67, "pct": 3.1}, {"genotype": "nrpe1", "pos": 2.89, "pct": 3.08}, {"genotype": "nrpe1", "pos": 3.1, "pct": 3.05}, {"genotype": "nrpe1", "pos": 3.27, "pct": 3.14}, {"genotype": "nrpe1", "pos": 3.48, "pct": 3.15}, {"genotype": "nrpe1", "pos": 3.65, "pct": 2.99}, {"genotype": "nrpe1", "pos": 3.86, "pct": 2.79}, {"genotype": "nrpe1", "pos": 4.08, "pct": 2.63}, {"genotype": "nrpe1", "pos": 4.3, "pct": 2.52}, {"genotype": "nrpe1", "pos": 4.52, "pct": 2.49}, {"genotype": "nrpe1", "pos": 4.73, "pct": 2.5}, {"genotype": "nrpe1", "pos": 4.95, "pct": 2.54}, {"genotype": "nrpe1", "pos": 5.22, "pct": 2.63}, {"genotype": "nrpe1", "pos": 5.49, "pct": 2.79}, {"genotype": "nrpe1", "pos": 5.71, "pct": 2.94}, {"genotype": "nrpe1", "pos": 5.9, "pct": 3.2},
      {"genotype": "wt", "pos": 0.1, "pct": 4.48}, {"genotype": "wt", "pos": 0.39, "pct": 4.56}, {"genotype": "wt", "pos": 0.66, "pct": 4.73}, {"genotype": "wt", "pos": 0.88, "pct": 4.96}, {"genotype": "wt", "pos": 1.09, "pct": 5.12}, {"genotype": "wt", "pos": 1.31, "pct": 5.21}, {"genotype": "wt", "pos": 1.47, "pct": 5.37}, {"genotype": "wt", "pos": 1.69, "pct": 6.13}, {"genotype": "wt", "pos": 1.85, "pct": 7.14}, {"genotype": "wt", "pos": 2.0, "pct": 8.04}, {"genotype": "wt", "pos": 2.13, "pct": 8.77}, {"genotype": "wt", "pos": 2.32, "pct": 9.16}, {"genotype": "wt", "pos": 2.48, "pct": 9.02}, {"genotype": "wt", "pos": 2.7, "pct": 8.9}, {"genotype": "wt", "pos": 2.83, "pct": 9.1}, {"genotype": "wt", "pos": 2.99, "pct": 9.44}, {"genotype": "wt", "pos": 3.16, "pct": 9.78}, {"genotype": "wt", "pos": 3.29, "pct": 10.03}, {"genotype": "wt", "pos": 3.46, "pct": 10.03}, {"genotype": "wt", "pos": 3.59, "pct": 9.61}, {"genotype": "wt", "pos": 3.73, "pct": 9.16}, {"genotype": "wt", "pos": 3.86, "pct": 8.04}, {"genotype": "wt", "pos": 4.0, "pct": 6.92}, {"genotype": "wt", "pos": 4.14, "pct": 6.13}, {"genotype": "wt", "pos": 4.3, "pct": 5.35}, {"genotype": "wt", "pos": 4.46, "pct": 4.84}, {"genotype": "wt", "pos": 4.63, "pct": 4.62}, {"genotype": "wt", "pos": 4.84, "pct": 4.39}, {"genotype": "wt", "pos": 4.95, "pct": 4.36}, {"genotype": "wt", "pos": 5.05, "pct": 4.45}, {"genotype": "wt", "pos": 5.28, "pct": 4.59}, {"genotype": "wt", "pos": 5.49, "pct": 4.47}, {"genotype": "wt", "pos": 5.71, "pct": 4.28}, {"genotype": "wt", "pos": 5.9, "pct": 3.89}
    ],
    "chh_intronic": [
      {"genotype": "nrpd1", "pos": 0.12, "pct": 2.27}, {"genotype": "nrpd1", "pos": 0.45, "pct": 2.27}, {"genotype": "nrpd1", "pos": 0.85, "pct": 2.21}, {"genotype": "nrpd1", "pos": 1.15, "pct": 2.16}, {"genotype": "nrpd1", "pos": 1.46, "pct": 2.21}, {"genotype": "nrpd1", "pos": 1.76, "pct": 2.23}, {"genotype": "nrpd1", "pos": 1.96, "pct": 2.34}, {"genotype": "nrpd1", "pos": 2.16, "pct": 2.48}, {"genotype": "nrpd1", "pos": 2.36, "pct": 2.61}, {"genotype": "nrpd1", "pos": 2.56, "pct": 2.7}, {"genotype": "nrpd1", "pos": 2.82, "pct": 2.75}, {"genotype": "nrpd1", "pos": 3.02, "pct": 2.73}, {"genotype": "nrpd1", "pos": 3.27, "pct": 2.68}, {"genotype": "nrpd1", "pos": 3.52, "pct": 2.63}, {"genotype": "nrpd1", "pos": 3.72, "pct": 2.52}, {"genotype": "nrpd1", "pos": 3.87, "pct": 2.41}, {"genotype": "nrpd1", "pos": 4.03, "pct": 2.3}, {"genotype": "nrpd1", "pos": 4.18, "pct": 2.23}, {"genotype": "nrpd1", "pos": 4.38, "pct": 2.18}, {"genotype": "nrpd1", "pos": 4.58, "pct": 2.18}, {"genotype": "nrpd1", "pos": 4.78, "pct": 2.18}, {"genotype": "nrpd1", "pos": 4.98, "pct": 2.21}, {"genotype": "nrpd1", "pos": 5.28, "pct": 2.23}, {"genotype": "nrpd1", "pos": 5.59, "pct": 2.25}, {"genotype": "nrpd1", "pos": 5.84, "pct": 2.28},
      {"genotype": "nrpe1", "pos": 0.12, "pct": 2.99}, {"genotype": "nrpe1", "pos": 0.45, "pct": 2.95}, {"genotype": "nrpe1", "pos": 0.85, "pct": 2.88}, {"genotype": "nrpe1", "pos": 1.15, "pct": 2.88}, {"genotype": "nrpe1", "pos": 1.46, "pct": 2.84}, {"genotype": "nrpe1", "pos": 1.76, "pct": 2.84}, {"genotype": "nrpe1", "pos": 1.96, "pct": 2.91}, {"genotype": "nrpe1", "pos": 2.16, "pct": 3.05}, {"genotype": "nrpe1", "pos": 2.36, "pct": 3.2}, {"genotype": "nrpe1", "pos": 2.56, "pct": 3.31}, {"genotype": "nrpe1", "pos": 2.77, "pct": 3.35}, {"genotype": "nrpe1", "pos": 2.97, "pct": 3.31}, {"genotype": "nrpe1", "pos": 3.22, "pct": 3.26}, {"genotype": "nrpe1", "pos": 3.47, "pct": 3.2}, {"genotype": "nrpe1", "pos": 3.67, "pct": 3.11}, {"genotype": "nrpe1", "pos": 3.82, "pct": 2.97}, {"genotype": "nrpe1", "pos": 3.97, "pct": 2.86}, {"genotype": "nrpe1", "pos": 4.13, "pct": 2.81}, {"genotype": "nrpe1", "pos": 4.28, "pct": 2.79}, {"genotype": "nrpe1", "pos": 4.48, "pct": 2.81}, {"genotype": "nrpe1", "pos": 4.73, "pct": 2.86}, {"genotype": "nrpe1", "pos": 4.98, "pct": 2.88}, {"genotype": "nrpe1", "pos": 5.28, "pct": 2.88}, {"genotype": "nrpe1", "pos": 5.59, "pct": 2.94}, {"genotype": "nrpe1", "pos": 5.84, "pct": 2.99},
      {"genotype": "wt", "pos": 0.12, "pct": 4.97}, {"genotype": "wt", "pos": 0.45, "pct": 5.05}, {"genotype": "wt", "pos": 0.7, "pct": 5.09}, {"genotype": "wt", "pos": 0.95, "pct": 5.11}, {"genotype": "wt", "pos": 1.15, "pct": 5.15}, {"genotype": "wt", "pos": 1.36, "pct": 5.32}, {"genotype": "wt", "pos": 1.51, "pct": 5.41}, {"genotype": "wt", "pos": 1.61, "pct": 5.59}, {"genotype": "wt", "pos": 1.73, "pct": 5.9}, {"genotype": "wt", "pos": 1.83, "pct": 6.49}, {"genotype": "wt", "pos": 1.93, "pct": 6.94}, {"genotype": "wt", "pos": 2.01, "pct": 7.48}, {"genotype": "wt", "pos": 2.11, "pct": 8.02}, {"genotype": "wt", "pos": 2.21, "pct": 8.47}, {"genotype": "wt", "pos": 2.34, "pct": 8.74}, {"genotype": "wt", "pos": 2.51, "pct": 8.87}, {"genotype": "wt", "pos": 2.66, "pct": 8.83}, {"genotype": "wt", "pos": 2.87, "pct": 8.92}, {"genotype": "wt", "pos": 3.07, "pct": 8.96}, {"genotype": "wt", "pos": 3.27, "pct": 8.92}, {"genotype": "wt", "pos": 3.47, "pct": 8.89}, {"genotype": "wt", "pos": 3.62, "pct": 8.65}, {"genotype": "wt", "pos": 3.72, "pct": 8.38}, {"genotype": "wt", "pos": 3.82, "pct": 7.93}, {"genotype": "wt", "pos": 3.92, "pct": 7.39}, {"genotype": "wt", "pos": 4.03, "pct": 6.85}, {"genotype": "wt", "pos": 4.13, "pct": 6.4}, {"genotype": "wt", "pos": 4.23, "pct": 5.95}, {"genotype": "wt", "pos": 4.33, "pct": 5.54}, {"genotype": "wt", "pos": 4.48, "pct": 5.32}, {"genotype": "wt", "pos": 4.63, "pct": 5.23}, {"genotype": "wt", "pos": 4.83, "pct": 5.12}, {"genotype": "wt", "pos": 5.03, "pct": 5.05}, {"genotype": "wt", "pos": 5.23, "pct": 5.0}, {"genotype": "wt", "pos": 5.49, "pct": 4.94}, {"genotype": "wt", "pos": 5.84, "pct": 4.93}
    ],
    "chh_exonic": [
      {"genotype": "nrpd1", "pos": 0.11, "pct": 2.18}, {"genotype": "nrpd1", "pos": 0.29, "pct": 2.45}, {"genotype": "nrpd1", "pos": 0.5, "pct": 2.56}, {"genotype": "nrpd1", "pos": 0.76, "pct": 2.67}, {"genotype": "nrpd1", "pos": 0.96, "pct": 2.51}, {"genotype": "nrpd1", "pos": 1.17, "pct": 2.35}, {"genotype": "nrpd1", "pos": 1.38, "pct": 2.16}, {"genotype": "nrpd1", "pos": 1.59, "pct": 2.18}, {"genotype": "nrpd1", "pos": 1.79, "pct": 2.42}, {"genotype": "nrpd1", "pos": 2.0, "pct": 2.67}, {"genotype": "nrpd1", "pos": 2.21, "pct": 2.85}, {"genotype": "nrpd1", "pos": 2.47, "pct": 2.92}, {"genotype": "nrpd1", "pos": 2.67, "pct": 3.02}, {"genotype": "nrpd1", "pos": 2.88, "pct": 3.05}, {"genotype": "nrpd1", "pos": 3.09, "pct": 2.94}, {"genotype": "nrpd1", "pos": 3.3, "pct": 2.85}, {"genotype": "nrpd1", "pos": 3.45, "pct": 2.92}, {"genotype": "nrpd1", "pos": 3.66, "pct": 3.15}, {"genotype": "nrpd1", "pos": 3.87, "pct": 3.26}, {"genotype": "nrpd1", "pos": 4.07, "pct": 3.15}, {"genotype": "nrpd1", "pos": 4.28, "pct": 2.85}, {"genotype": "nrpd1", "pos": 4.49, "pct": 2.61}, {"genotype": "nrpd1", "pos": 4.69, "pct": 2.42}, {"genotype": "nrpd1", "pos": 4.9, "pct": 2.24}, {"genotype": "nrpd1", "pos": 5.06, "pct": 2.15}, {"genotype": "nrpd1", "pos": 5.26, "pct": 2.16}, {"genotype": "nrpd1", "pos": 5.47, "pct": 2.29}, {"genotype": "nrpd1", "pos": 5.68, "pct": 2.49}, {"genotype": "nrpd1", "pos": 5.89, "pct": 2.72},
      {"genotype": "nrpe1", "pos": 0.11, "pct": 3.35}, {"genotype": "nrpe1", "pos": 0.29, "pct": 3.39}, {"genotype": "nrpe1", "pos": 0.6, "pct": 3.37}, {"genotype": "nrpe1", "pos": 0.81, "pct": 3.21}, {"genotype": "nrpe1", "pos": 1.12, "pct": 3.18}, {"genotype": "nrpe1", "pos": 1.33, "pct": 3.05}, {"genotype": "nrpe1", "pos": 1.53, "pct": 2.96}, {"genotype": "nrpe1", "pos": 1.69, "pct": 3.1}, {"genotype": "nrpe1", "pos": 1.84, "pct": 3.37}, {"genotype": "nrpe1", "pos": 2.0, "pct": 3.5}, {"genotype": "nrpe1", "pos": 2.16, "pct": 3.5}, {"genotype": "nrpe1", "pos": 2.31, "pct": 3.21}, {"genotype": "nrpe1", "pos": 2.52, "pct": 3.26}, {"genotype": "nrpe1", "pos": 2.67, "pct": 3.5}, {"genotype": "nrpe1", "pos": 2.88, "pct": 3.75}, {"genotype": "nrpe1", "pos": 3.04, "pct": 3.85}, {"genotype": "nrpe1", "pos": 3.19, "pct": 3.69}, {"genotype": "nrpe1", "pos": 3.35, "pct": 3.53}, {"genotype": "nrpe1", "pos": 3.5, "pct": 3.48}, {"genotype": "nrpe1", "pos": 3.66, "pct": 3.61}, {"genotype": "nrpe1", "pos": 3.87, "pct": 3.61}, {"genotype": "nrpe1", "pos": 4.07, "pct": 3.48}, {"genotype": "nrpe1", "pos": 4.28, "pct": 3.28}, {"genotype": "nrpe1", "pos": 4.49, "pct": 3.07}, {"genotype": "nrpe1", "pos": 4.69, "pct": 3.02}, {"genotype": "nrpe1", "pos": 4.9, "pct": 2.94}, {"genotype": "nrpe1", "pos": 5.06, "pct": 2.83}, {"genotype": "nrpe1", "pos": 5.26, "pct": 2.85}, {"genotype": "nrpe1", "pos": 5.47, "pct": 2.87}, {"genotype": "nrpe1", "pos": 5.68, "pct": 2.92}, {"genotype": "nrpe1", "pos": 5.89, "pct": 3.01},
      {"genotype": "wt", "pos": 0.11, "pct": 4.77}, {"genotype": "wt", "pos": 0.29, "pct": 4.79}, {"genotype": "wt", "pos": 0.5, "pct": 4.93}, {"genotype": "wt", "pos": 0.7, "pct": 5.04}, {"genotype": "wt", "pos": 0.91, "pct": 5.09}, {"genotype": "wt", "pos": 1.07, "pct": 5.2}, {"genotype": "wt", "pos": 1.27, "pct": 5.47}, {"genotype": "wt", "pos": 1.48, "pct": 5.63}, {"genotype": "wt", "pos": 1.59, "pct": 5.85}, {"genotype": "wt", "pos": 1.72, "pct": 6.28}, {"genotype": "wt", "pos": 1.84, "pct": 6.93}, {"genotype": "wt", "pos": 2.0, "pct": 7.57}, {"genotype": "wt", "pos": 2.16, "pct": 8.33}, {"genotype": "wt", "pos": 2.31, "pct": 8.98}, {"genotype": "wt", "pos": 2.47, "pct": 9.3}, {"genotype": "wt", "pos": 2.62, "pct": 9.48}, {"genotype": "wt", "pos": 2.78, "pct": 9.39}, {"genotype": "wt", "pos": 2.93, "pct": 9.08}, {"genotype": "wt", "pos": 3.04, "pct": 8.71}, {"genotype": "wt", "pos": 3.14, "pct": 8.62}, {"genotype": "wt", "pos": 3.3, "pct": 8.71}, {"genotype": "wt", "pos": 3.42, "pct": 9.3}, {"genotype": "wt", "pos": 3.55, "pct": 9.62}, {"genotype": "wt", "pos": 3.66, "pct": 9.78}, {"genotype": "wt", "pos": 3.76, "pct": 9.62}, {"genotype": "wt", "pos": 3.87, "pct": 8.98}, {"genotype": "wt", "pos": 3.97, "pct": 8.22}, {"genotype": "wt", "pos": 4.07, "pct": 7.14}, {"genotype": "wt", "pos": 4.18, "pct": 6.17}, {"genotype": "wt", "pos": 4.28, "pct": 5.42}, {"genotype": "wt", "pos": 4.38, "pct": 4.99}, {"genotype": "wt", "pos": 4.49, "pct": 4.77}, {"genotype": "wt", "pos": 4.59, "pct": 4.88}, {"genotype": "wt", "pos": 4.75, "pct": 5.15}, {"genotype": "wt", "pos": 4.9, "pct": 5.36}, {"genotype": "wt", "pos": 5.06, "pct": 5.61}, {"genotype": "wt", "pos": 5.19, "pct": 5.65}, {"genotype": "wt", "pos": 5.32, "pct": 5.58}, {"genotype": "wt", "pos": 5.47, "pct": 5.31}, {"genotype": "wt", "pos": 5.63, "pct": 4.99}, {"genotype": "wt", "pos": 5.76, "pct": 4.56}, {"genotype": "wt", "pos": 5.89, "pct": 3.91}
    ]
  },
  "vconcat": [
    {
      "width": 1422,
      "height": 66,
      "view": {"stroke": null, "fill": null},
      "data": {"name": "genotypes"},
      "encoding": {
        "x": {"field": "genotype", "type": "nominal", "axis": null, "scale": {"type": "point", "domain": ["nrpd1", "nrpe1", "wt"], "range": [429, 991], "padding": 0}}
      },
      "layer": [
        {"mark": {"type": "square", "size": 2704, "color": "#F2F2F2", "filled": true, "opacity": 1}},
        {"mark": {"type": "tick", "orient": "horizontal", "size": 42, "thickness": 4, "opacity": 1, "yOffset": -2},
         "encoding": {"color": {"field": "genotype", "type": "nominal", "legend": null, "scale": {"domain": ["nrpd1", "nrpe1", "wt"], "range": ["#F8766D", "#00BFC4", "#A6A6A6"]}}}},
        {"transform": [{"filter": "datum.genotype !== 'wt'"}],
         "mark": {"type": "text", "align": "left", "baseline": "middle", "dx": 32, "dy": -2, "font": "DejaVu Sans", "fontStyle": "italic", "fontSize": 30, "color": "#000000"},
         "encoding": {"text": {"field": "genotype"}}},
        {"transform": [{"filter": "datum.genotype === 'wt'"}],
         "mark": {"type": "text", "align": "left", "baseline": "middle", "dx": 50, "dy": 5, "font": "DejaVu Sans", "fontStyle": "italic", "fontSize": 40, "color": "#000000"},
         "encoding": {"text": {"field": "genotype"}}}
      ]
    },
    {
      "columns": 1,
      "align": "none",
      "spacing": 104,
      "concat": [
        {
          "spacing": 14,
          "hconcat": [
            {"width": 1, "height": 1, "data": {"values": []}, "mark": "point"},
            {
              "width": 408, "height": 277,
              "view": {"fill": "#E6E6E6", "stroke": null},
              "title": {"text": "Intergenic TEs"},
              "layer": [
                {"data": {"name": "cg_intergenic"}, "mark": "line",
                 "encoding": {
                   "x": {"field": "pos", "type": "quantitative", "title": null, "scale": {"domain": [-0.18, 6.18], "nice": false, "zero": false}, "axis": {"values": [0, 1, 2, 3, 4, 5, 6], "labelExpr": "datum.value === 2 ? 'TSS' : datum.value === 4 ? 'TTS' : ''", "gridWidth": 1, "tickOpacity": {"condition": {"test": "datum.value === 2 || datum.value === 4", "value": 1}, "value": 0}}},
                   "y": {"field": "pct", "type": "quantitative", "title": "CG(%)", "scale": {"domain": [26.0, 58.7], "nice": false, "zero": false}, "axis": {"values": [30, 35, 40, 45, 50, 55], "labelExpr": "indexof([30, 40, 50], datum.value) >= 0 ? datum.label : ''", "gridWidth": {"condition": {"test": "indexof([30, 40, 50], datum.value) >= 0", "value": 1.3}, "value": 0.6}, "tickOpacity": {"condition": {"test": "indexof([30, 40, 50], datum.value) >= 0", "value": 1}, "value": 0}}},
                   "color": {"field": "genotype", "type": "nominal", "legend": null, "scale": {"domain": ["nrpd1", "nrpe1", "wt"], "range": ["#F8766D", "#00BFC4", "#7F7F7F"]}}
                 }},
                {"data": {"name": "sites"}, "mark": {"type": "rule", "color": "#CD0000", "strokeDash": [4, 3], "strokeWidth": 1.4},
                 "encoding": {"x": {"field": "pos", "type": "quantitative", "title": null}}}
              ]
            },
            {
              "width": 407, "height": 277,
              "view": {"fill": "#E6E6E6", "stroke": null},
              "title": {"text": "Intronic TEs"},
              "layer": [
                {"data": {"name": "cg_intronic"}, "mark": "line",
                 "encoding": {
                   "x": {"field": "pos", "type": "quantitative", "title": null, "scale": {"domain": [-0.17, 6.15], "nice": false, "zero": false}, "axis": {"values": [0, 1, 2, 3, 4, 5, 6], "labelExpr": "datum.value === 2 ? 'TSS' : datum.value === 4 ? 'TTS' : ''", "gridWidth": 1, "tickOpacity": {"condition": {"test": "datum.value === 2 || datum.value === 4", "value": 1}, "value": 0}}},
                   "y": {"field": "pct", "type": "quantitative", "title": "CG(%)", "scale": {"domain": [32.3, 55.9], "nice": false, "zero": false}, "axis": {"values": [32.5, 35, 37.5, 40, 42.5, 45, 47.5, 50, 52.5, 55], "labelExpr": "indexof([35, 40, 45, 50, 55], datum.value) >= 0 ? datum.label : ''", "gridWidth": {"condition": {"test": "indexof([35, 40, 45, 50, 55], datum.value) >= 0", "value": 1.3}, "value": 0.6}, "tickOpacity": {"condition": {"test": "indexof([35, 40, 45, 50, 55], datum.value) >= 0", "value": 1}, "value": 0}}},
                   "color": {"field": "genotype", "type": "nominal", "legend": null, "scale": {"domain": ["nrpd1", "nrpe1", "wt"], "range": ["#F8766D", "#00BFC4", "#7F7F7F"]}}
                 }},
                {"data": {"name": "sites"}, "mark": {"type": "rule", "color": "#CD0000", "strokeDash": [4, 3], "strokeWidth": 1.4},
                 "encoding": {"x": {"field": "pos", "type": "quantitative", "title": null}}}
              ]
            },
            {
              "width": 405, "height": 276,
              "view": {"fill": "#E6E6E6", "stroke": null},
              "title": {"text": "Exonic TEs", "dx": -21},
              "layer": [
                {"data": {"name": "cg_exonic"}, "mark": "line",
                 "encoding": {
                   "x": {"field": "pos", "type": "quantitative", "title": null, "scale": {"domain": [-0.27, 6.04], "nice": false, "zero": false}, "axis": {"values": [0, 1, 2, 3, 4, 5, 6], "labelExpr": "datum.value === 2 ? 'TSS' : datum.value === 4 ? 'TTS' : ''", "gridWidth": 1, "tickOpacity": {"condition": {"test": "datum.value === 2 || datum.value === 4", "value": 1}, "value": 0}}},
                   "y": {"field": "pct", "type": "quantitative", "title": "CG(%)", "scale": {"domain": [26.9, 66.0], "nice": false, "zero": false}, "axis": {"values": [30, 35, 40, 45, 50, 55, 60, 65], "labelExpr": "indexof([30, 40, 50, 60], datum.value) >= 0 ? datum.label : ''", "gridWidth": {"condition": {"test": "indexof([30, 40, 50, 60], datum.value) >= 0", "value": 1.3}, "value": 0.6}, "tickOpacity": {"condition": {"test": "indexof([30, 40, 50, 60], datum.value) >= 0", "value": 1}, "value": 0}}},
                   "color": {"field": "genotype", "type": "nominal", "legend": null, "scale": {"domain": ["nrpd1", "nrpe1", "wt"], "range": ["#F8766D", "#00BFC4", "#7F7F7F"]}}
                 }},
                {"data": {"name": "sites"}, "mark": {"type": "rule", "color": "#CD0000", "strokeDash": [4, 3], "strokeWidth": 1.4},
                 "encoding": {"x": {"field": "pos", "type": "quantitative", "title": null}}}
              ]
            }
          ]
        },
        {
          "spacing": 13,
          "hconcat": [
            {"width": 1, "height": 1, "data": {"values": []}, "mark": "point"},
            {
              "width": 409, "height": 277,
              "view": {"fill": "#E6E6E6", "stroke": null},
              "layer": [
                {"data": {"name": "chg_intergenic"}, "mark": "line",
                 "encoding": {
                   "x": {"field": "pos", "type": "quantitative", "title": null, "scale": {"domain": [-0.15, 6.22], "nice": false, "zero": false}, "axis": {"values": [0, 1, 2, 3, 4, 5, 6], "labelExpr": "datum.value === 2 ? 'TSS' : datum.value === 4 ? 'TTS' : ''", "gridWidth": 1, "tickOpacity": {"condition": {"test": "datum.value === 2 || datum.value === 4", "value": 1}, "value": 0}}},
                   "y": {"field": "pct", "type": "quantitative", "title": "CHG(%)", "scale": {"domain": [8.96, 25.34], "nice": false, "zero": false}, "axis": {"values": [10, 12.5, 15, 17.5, 20, 22.5, 25], "labelExpr": "indexof([10, 15, 20, 25], datum.value) >= 0 ? datum.label : ''", "gridWidth": {"condition": {"test": "indexof([10, 15, 20, 25], datum.value) >= 0", "value": 1.3}, "value": 0.6}, "tickOpacity": {"condition": {"test": "indexof([10, 15, 20, 25], datum.value) >= 0", "value": 1}, "value": 0}}},
                   "color": {"field": "genotype", "type": "nominal", "legend": null, "scale": {"domain": ["nrpd1", "nrpe1", "wt"], "range": ["#F8766D", "#00BFC4", "#7F7F7F"]}}
                 }},
                {"data": {"name": "sites"}, "mark": {"type": "rule", "color": "#CD0000", "strokeDash": [4, 3], "strokeWidth": 1.4},
                 "encoding": {"x": {"field": "pos", "type": "quantitative", "title": null}}}
              ]
            },
            {
              "width": 406, "height": 276,
              "view": {"fill": "#E6E6E6", "stroke": null},
              "layer": [
                {"data": {"name": "chg_intronic"}, "mark": "line",
                 "encoding": {
                   "x": {"field": "pos", "type": "quantitative", "title": null, "scale": {"domain": [-0.17, 6.17], "nice": false, "zero": false}, "axis": {"values": [0, 1, 2, 3, 4, 5, 6], "labelExpr": "datum.value === 2 ? 'TSS' : datum.value === 4 ? 'TTS' : ''", "gridWidth": 1, "tickOpacity": {"condition": {"test": "datum.value === 2 || datum.value === 4", "value": 1}, "value": 0}}},
                   "y": {"field": "pct", "type": "quantitative", "title": "CHG(%)", "scale": {"domain": [10.77, 23.83], "nice": false, "zero": false}, "axis": {"values": [12.5, 15, 17.5, 20, 22.5], "labelExpr": "indexof([15, 20], datum.value) >= 0 ? datum.label : ''", "gridWidth": {"condition": {"test": "indexof([15, 20], datum.value) >= 0", "value": 1.3}, "value": 0.6}, "tickOpacity": {"condition": {"test": "indexof([15, 20], datum.value) >= 0", "value": 1}, "value": 0}}},
                   "color": {"field": "genotype", "type": "nominal", "legend": null, "scale": {"domain": ["nrpd1", "nrpe1", "wt"], "range": ["#F8766D", "#00BFC4", "#7F7F7F"]}}
                 }},
                {"data": {"name": "sites"}, "mark": {"type": "rule", "color": "#CD0000", "strokeDash": [4, 3], "strokeWidth": 1.4},
                 "encoding": {"x": {"field": "pos", "type": "quantitative", "title": null}}}
              ]
            },
            {
              "width": 408, "height": 278,
              "view": {"fill": "#E6E6E6", "stroke": null},
              "layer": [
                {"data": {"name": "chg_exonic"}, "mark": "line",
                 "encoding": {
                   "x": {"field": "pos", "type": "quantitative", "title": null, "scale": {"domain": [-0.28, 6.08], "nice": false, "zero": false}, "axis": {"values": [0, 1, 2, 3, 4, 5, 6], "labelExpr": "datum.value === 2 ? 'TSS' : datum.value === 4 ? 'TTS' : ''", "gridWidth": 1, "tickOpacity": {"condition": {"test": "datum.value === 2 || datum.value === 4", "value": 1}, "value": 0}}},
                   "y": {"field": "pct", "type": "quantitative", "title": "CHG(%)", "scale": {"domain": [9.4, 32.9], "nice": false, "zero": false}, "axis": {"values": [10, 12.5, 15, 17.5, 20, 22.5, 25, 27.5, 30, 32.5], "labelExpr": "indexof([10, 15, 20, 25, 30], datum.value) >= 0 ? datum.label : ''", "gridWidth": {"condition": {"test": "indexof([10, 15, 20, 25, 30], datum.value) >= 0", "value": 1.3}, "value": 0.6}, "tickOpacity": {"condition": {"test": "indexof([10, 15, 20, 25, 30], datum.value) >= 0", "value": 1}, "value": 0}}},
                   "color": {"field": "genotype", "type": "nominal", "legend": null, "scale": {"domain": ["nrpd1", "nrpe1", "wt"], "range": ["#F8766D", "#00BFC4", "#7F7F7F"]}}
                 }},
                {"data": {"name": "sites"}, "mark": {"type": "rule", "color": "#CD0000", "strokeDash": [4, 3], "strokeWidth": 1.4},
                 "encoding": {"x": {"field": "pos", "type": "quantitative", "title": null}}}
              ]
            }
          ]
        },
        {
          "spacing": 16,
          "hconcat": [
            {"width": 1, "height": 1, "data": {"values": []}, "mark": "point"},
            {
              "width": 394, "height": 278,
              "view": {"fill": "#E6E6E6", "stroke": null},
              "layer": [
                {"data": {"name": "chh_intergenic"}, "mark": "line",
                 "encoding": {
                   "x": {"field": "pos", "type": "quantitative", "title": null, "scale": {"domain": [-0.21, 6.2], "nice": false, "zero": false}, "axis": {"values": [0, 1, 2, 3, 4, 5, 6], "labelExpr": "datum.value === 2 ? 'TSS' : datum.value === 4 ? 'TTS' : ''", "gridWidth": 1, "tickOpacity": {"condition": {"test": "datum.value === 2 || datum.value === 4", "value": 1}, "value": 0}}},
                   "y": {"field": "pct", "type": "quantitative", "title": "CHH(%)", "scale": {"domain": [1.46, 10.78], "nice": false, "zero": false}, "axis": {"values": [2.5, 3.75, 5, 6.25, 7.5, 8.75, 10], "format": ".1f", "labelExpr": "indexof([2.5, 5, 7.5, 10], datum.value) >= 0 ? datum.label : ''", "gridWidth": {"condition": {"test": "indexof([2.5, 5, 7.5, 10], datum.value) >= 0", "value": 1.3}, "value": 0.6}, "tickOpacity": {"condition": {"test": "indexof([2.5, 5, 7.5, 10], datum.value) >= 0", "value": 1}, "value": 0}}},
                   "color": {"field": "genotype", "type": "nominal", "legend": null, "scale": {"domain": ["nrpd1", "nrpe1", "wt"], "range": ["#F8766D", "#00BFC4", "#7F7F7F"]}}
                 }},
                {"data": {"name": "sites"}, "mark": {"type": "rule", "color": "#CD0000", "strokeDash": [4, 3], "strokeWidth": 1.4},
                 "encoding": {"x": {"field": "pos", "type": "quantitative", "title": null}}}
              ]
            },
            {
              "width": 418, "height": 277,
              "view": {"fill": "#E6E6E6", "stroke": null},
              "layer": [
                {"data": {"name": "chh_intronic"}, "mark": "line",
                 "encoding": {
                   "x": {"field": "pos", "type": "quantitative", "title": null, "scale": {"domain": [-0.22, 6.1], "nice": false, "zero": false}, "axis": {"values": [0, 1, 2, 3, 4, 5, 6], "labelExpr": "datum.value === 2 ? 'TSS' : datum.value === 4 ? 'TTS' : ''", "gridWidth": 1, "tickOpacity": {"condition": {"test": "datum.value === 2 || datum.value === 4", "value": 1}, "value": 0}}},
                   "y": {"field": "pct", "type": "quantitative", "title": "CHH(%)", "scale": {"domain": [1.85, 9.32], "nice": false, "zero": false}, "axis": {"values": [2, 3, 4, 5, 6, 7, 8, 9], "labelExpr": "indexof([2, 4, 6, 8], datum.value) >= 0 ? datum.label : ''", "gridWidth": {"condition": {"test": "indexof([2, 4, 6, 8], datum.value) >= 0", "value": 1.3}, "value": 0.6}, "tickOpacity": {"condition": {"test": "indexof([2, 4, 6, 8], datum.value) >= 0", "value": 1}, "value": 0}}},
                   "color": {"field": "genotype", "type": "nominal", "legend": null, "scale": {"domain": ["nrpd1", "nrpe1", "wt"], "range": ["#F8766D", "#00BFC4", "#7F7F7F"]}}
                 }},
                {"data": {"name": "sites"}, "mark": {"type": "rule", "color": "#CD0000", "strokeDash": [4, 3], "strokeWidth": 1.4},
                 "encoding": {"x": {"field": "pos", "type": "quantitative", "title": null}}}
              ]
            },
            {
              "width": 399, "height": 279,
              "view": {"fill": "#E6E6E6", "stroke": null},
              "layer": [
                {"data": {"name": "chh_exonic"}, "mark": "line",
                 "encoding": {
                   "x": {"field": "pos", "type": "quantitative", "title": null, "scale": {"domain": [-0.13, 6.07], "nice": false, "zero": false}, "axis": {"values": [0, 1, 2, 3, 4, 5, 6], "labelExpr": "datum.value === 2 ? 'TSS' : datum.value === 4 ? 'TTS' : ''", "gridWidth": 1, "tickOpacity": {"condition": {"test": "datum.value === 2 || datum.value === 4", "value": 1}, "value": 0}}},
                   "y": {"field": "pct", "type": "quantitative", "title": "CHH(%)", "scale": {"domain": [1.64, 10.66], "nice": false, "zero": false}, "axis": {"values": [2, 3, 4, 5, 6, 7, 8, 9, 10], "labelExpr": "indexof([2, 4, 6, 8, 10], datum.value) >= 0 ? datum.label : ''", "gridWidth": {"condition": {"test": "indexof([2, 4, 6, 8, 10], datum.value) >= 0", "value": 1.3}, "value": 0.6}, "tickOpacity": {"condition": {"test": "indexof([2, 4, 6, 8, 10], datum.value) >= 0", "value": 1}, "value": 0}}},
                   "color": {"field": "genotype", "type": "nominal", "legend": null, "scale": {"domain": ["nrpd1", "nrpe1", "wt"], "range": ["#F8766D", "#00BFC4", "#7F7F7F"]}}
                 }},
                {"data": {"name": "sites"}, "mark": {"type": "rule", "color": "#CD0000", "strokeDash": [4, 3], "strokeWidth": 1.4},
                 "encoding": {"x": {"field": "pos", "type": "quantitative", "title": null}}}
              ]
            }
          ]
        }
      ]
    }
  ]
}
